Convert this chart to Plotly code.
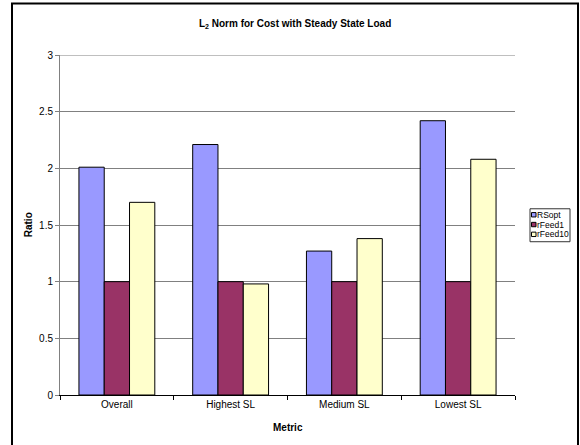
import plotly.graph_objects as go

categories = ["Overall", "Highest SL", "Medium SL", "Lowest SL"]
series_names = ["RSopt", "rFeed1", "rFeed10"]
rsopt = [2.01, 2.21, 1.27, 2.42]
rfeed1 = [1.0, 1.0, 1.0, 1.0]
rfeed10 = [1.70, 0.98, 1.38, 2.08]
colors = ["#9999FF", "#993366", "#FFFFCC"]
y_ticks = [0, 0.5, 1, 1.5, 2, 2.5, 3]

W, H = 580, 445
L, R, T, B = 60, 65, 54.5, 50
PW = W - L - R
PH = H - T - B


def px(x):
    return (x - L) / PW


def py(y):
    return (H - B - y) / PH


FONT = "Arial, Liberation Sans, sans-serif"

fig = go.Figure()
for name, vals, col in zip(series_names, [rsopt, rfeed1, rfeed10], colors):
    fig.add_trace(go.Bar(
        x=categories, y=vals, name=name,
        marker=dict(color=col, line=dict(color="black", width=1)),
    ))

fig.update_layout(
    width=W, height=H,
    margin=dict(l=L, r=R, t=T, b=B),
    paper_bgcolor="white", plot_bgcolor="white",
    barmode="group", bargap=0.333, bargroupgap=0,
    showlegend=False,
    font=dict(family=FONT, size=10, color="black"),
)
fig.update_yaxes(
    range=[0, 3], tickvals=y_ticks, ticktext=[f"{v:g}" for v in y_ticks],
    showgrid=True, gridcolor="#808080", gridwidth=1,
    showline=True, linecolor="#808080", linewidth=1,
    ticks="outside", ticklen=4, tickcolor="#808080",
    zeroline=False, tickfont=dict(size=10),
)
fig.update_xaxes(
    showline=True, linecolor="black", linewidth=1,
    ticks="outside", tickson="boundaries", ticklen=4, tickcolor="black",
    tickfont=dict(size=10), showgrid=False,
)

shapes = []
annots = []
# top gridline (plotly skips the grid line at the range edge)
shapes.append(dict(type="line", xref="paper", yref="y", x0=0, x1=1,
                   y0=y_ticks[-1], y1=y_ticks[-1],
                   line=dict(color="#808080", width=1), layer="below"))
# chart frame
shapes.append(dict(type="rect", xref="paper", yref="paper",
                   x0=px(12), x1=px(578), y0=py(450), y1=py(3),
                   line=dict(color="black", width=2), fillcolor="rgba(0,0,0,0)",
                   layer="below"))
# title
annots.append(dict(xref="paper", yref="paper", x=px(295), y=py(23),
                   text="<b>L<sub>2</sub> Norm for Cost with Steady State Load</b>",
                   showarrow=False, font=dict(size=10, family=FONT),
                   xanchor="center", yanchor="middle"))
# axis titles
annots.append(dict(xref="paper", yref="paper", x=px(28), y=py(225),
                   text="<b>Ratio</b>", textangle=-90, showarrow=False,
                   font=dict(size=10, family=FONT), xanchor="center", yanchor="middle"))
annots.append(dict(xref="paper", yref="paper", x=px(288), y=py(428),
                   text="<b>Metric</b>", showarrow=False,
                   font=dict(size=10, family=FONT), xanchor="center", yanchor="middle"))
# legend box
shapes.append(dict(type="rect", xref="paper", yref="paper",
                   x0=px(530), x1=px(570), y0=py(241.5), y1=py(208.5),
                   line=dict(color="#333333", width=1), fillcolor="white"))
for i, (name, col) in enumerate(zip(series_names, colors)):
    cy = 214.5 + i * 9.8
    shapes.append(dict(type="rect", xref="paper", yref="paper",
                       x0=px(531.5), x1=px(536), y0=py(cy + 2.2), y1=py(cy - 2.2),
                       line=dict(color="black", width=1), fillcolor=col))
    annots.append(dict(xref="paper", yref="paper", x=px(535.5), y=py(cy),
                       text=name, showarrow=False, xanchor="left", yanchor="middle",
                       borderpad=0, font=dict(size=8.5, family=FONT)))

fig.update_layout(shapes=shapes, annotations=annots)
fig.write_html("out.html", config={"displayModeBar": False},
               post_script="document.body.style.margin='0';document.body.style.overflow='hidden';")
